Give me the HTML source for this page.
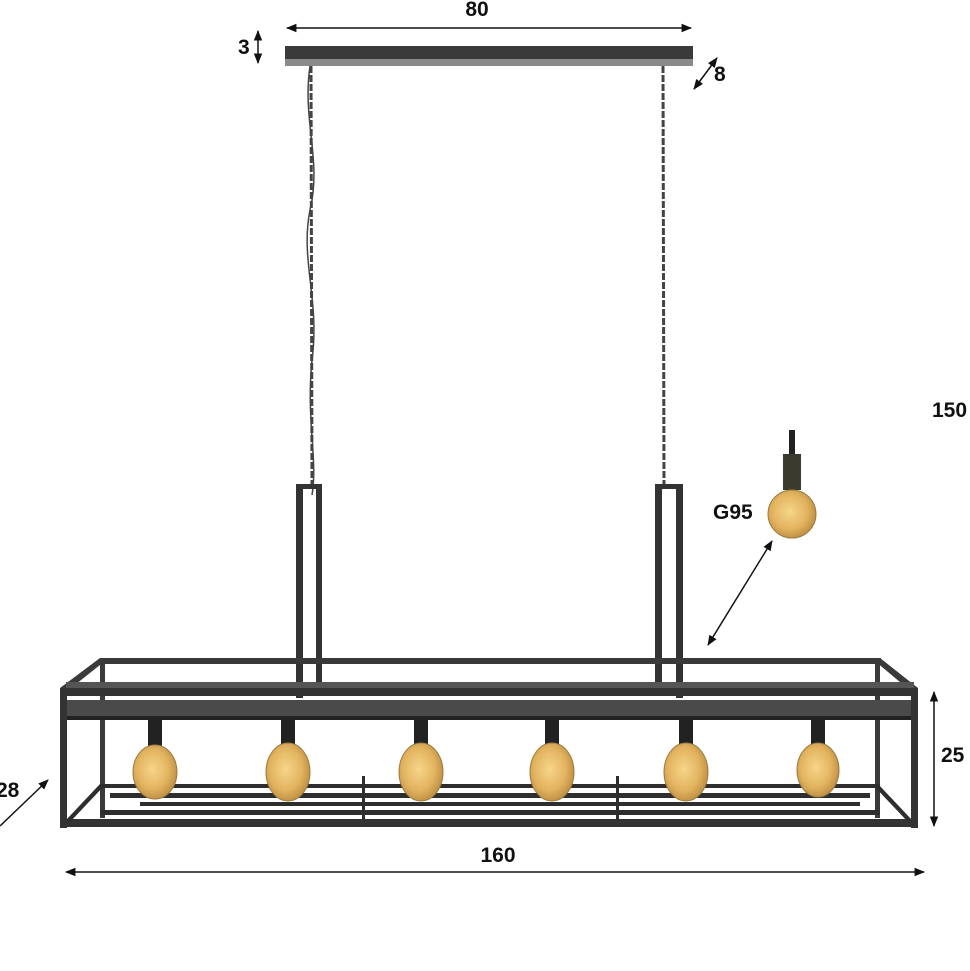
<!DOCTYPE html>
<html><head><style>html,body{margin:0;padding:0;background:#fff}svg{display:block}text{font-family:"Liberation Sans",Arial,sans-serif;font-weight:bold;fill:#111}</style></head><body>
<svg width="970" height="971" viewBox="0 0 970 971" xmlns="http://www.w3.org/2000/svg">
<defs>
<marker id="a" viewBox="0 0 10 10" refX="9" refY="5" markerWidth="7" markerHeight="7" orient="auto-start-reverse"><path d="M0,1 L10,5 L0,9 z" fill="#111"/></marker>
<radialGradient id="b" cx="0.45" cy="0.45" r="0.6"><stop offset="0" stop-color="#f6d58a"/><stop offset="0.6" stop-color="#e3b460"/><stop offset="1" stop-color="#b98a3e"/></radialGradient>
</defs>
<text x="477" y="16" font-size="21" text-anchor="middle">80</text>
<line x1="287" y1="28" x2="691" y2="28" stroke="#111" stroke-width="1.5" marker-start="url(#a)" marker-end="url(#a)"/>
<text x="238" y="54" font-size="21">3</text>
<line x1="258" y1="31" x2="258" y2="63" stroke="#111" stroke-width="1.5" marker-start="url(#a)" marker-end="url(#a)"/>
<text x="714" y="81" font-size="21">8</text>
<line x1="694" y1="89" x2="717" y2="58" stroke="#111" stroke-width="1.5" marker-start="url(#a)" marker-end="url(#a)"/>
<text x="932" y="417" font-size="21">150</text>
<text x="713" y="519" font-size="21">G95</text>
<line x1="708" y1="645" x2="772" y2="541" stroke="#111" stroke-width="1.5" marker-start="url(#a)" marker-end="url(#a)"/>
<text x="941" y="762" font-size="21">25</text>
<line x1="934" y1="692" x2="934" y2="826" stroke="#111" stroke-width="1.5" marker-start="url(#a)" marker-end="url(#a)"/>
<text x="-4" y="797" font-size="21">28</text>
<line x1="0" y1="826" x2="48" y2="780" stroke="#111" stroke-width="1.5" marker-end="url(#a)"/>
<text x="498" y="862" font-size="21" text-anchor="middle">160</text>
<line x1="66" y1="872" x2="924" y2="872" stroke="#111" stroke-width="1.5" marker-start="url(#a)" marker-end="url(#a)"/>
<rect x="285" y="46" width="408" height="13" fill="#3a3a3a"/>
<rect x="285" y="59" width="408" height="7" fill="#8a8a8a"/>
<g fill="none" stroke="#444">
<path d="M310,66 C302,120 322,160 310,210 C300,260 320,300 312,360 C306,420 318,460 312,495" stroke-width="1.5"/>
<path d="M663,66 L664,488" stroke-dasharray="7,2" stroke-width="3"/>
<path d="M311,66 L312,488" stroke-dasharray="7,2" stroke-width="3"/>
</g>
<g fill="#333">
<rect x="296" y="488" width="7" height="210"/><rect x="316" y="488" width="6" height="200"/>
<rect x="296" y="484" width="26" height="5"/>
<rect x="655" y="488" width="7" height="200"/><rect x="676" y="488" width="7" height="210"/>
<rect x="655" y="484" width="28" height="5"/>
</g>
<g fill="#3a3a3a">
<rect x="100" y="658" width="781" height="6"/>
<rect x="100" y="658" width="5" height="160"/>
<rect x="875" y="658" width="5" height="160"/>
<polygon points="60,688 100,658 105,661 66,692"/>
<polygon points="880,658 918,688 912,692 876,662"/>
</g>
<rect x="66" y="682" width="848" height="12" fill="#555"/>
<rect x="66" y="700" width="848" height="16" fill="#4a4a4a"/>
<rect x="66" y="716" width="848" height="4" fill="#222"/>
<g fill="#333">
<rect x="60" y="688" width="858" height="8"/>
<rect x="60" y="688" width="7" height="140"/>
<rect x="911" y="688" width="7" height="140"/>
<rect x="60" y="819" width="858" height="8"/>
</g>
<g fill="#2e2e2e">
<rect x="100" y="784" width="780" height="4"/>
<rect x="110" y="793" width="760" height="5"/>
<rect x="140" y="802" width="720" height="4"/>
<rect x="100" y="810" width="780" height="5"/>
<polygon points="66,820 100,784 104,786 70,822"/>
<polygon points="912,820 878,784 874,786 908,822"/>
<rect x="362" y="776" width="3" height="44"/><rect x="616" y="776" width="3" height="44"/>
</g>
<g>
<g transform="translate(155,0)"><rect x="-7" y="720" width="14" height="26" fill="#222"/><ellipse cx="0" cy="772" rx="22" ry="27" fill="url(#b)" stroke="#9a7a40"/></g>
<g transform="translate(288,0)"><rect x="-7" y="720" width="14" height="26" fill="#222"/><ellipse cx="0" cy="772" rx="22" ry="29" fill="url(#b)" stroke="#9a7a40"/></g>
<g transform="translate(421,0)"><rect x="-7" y="720" width="14" height="26" fill="#222"/><ellipse cx="0" cy="772" rx="22" ry="29" fill="url(#b)" stroke="#9a7a40"/></g>
<g transform="translate(552,0)"><rect x="-7" y="720" width="14" height="26" fill="#222"/><ellipse cx="0" cy="772" rx="22" ry="29" fill="url(#b)" stroke="#9a7a40"/></g>
<g transform="translate(686,0)"><rect x="-7" y="720" width="14" height="26" fill="#222"/><ellipse cx="0" cy="772" rx="22" ry="29" fill="url(#b)" stroke="#9a7a40"/></g>
<g transform="translate(818,0)"><rect x="-7" y="720" width="14" height="26" fill="#222"/><ellipse cx="0" cy="770" rx="21" ry="27" fill="url(#b)" stroke="#9a7a40"/></g>
</g>
<rect x="789" y="430" width="6" height="24" fill="#222"/>
<rect x="783" y="454" width="18" height="36" fill="#3a3a2e"/>
<circle cx="792" cy="514" r="24" fill="url(#b)" stroke="#9a7a40"/>
</svg>
</body></html>
